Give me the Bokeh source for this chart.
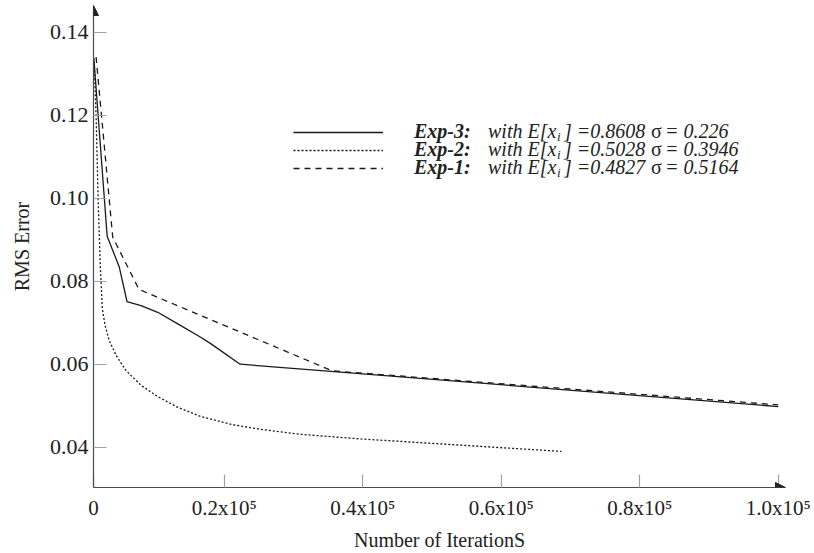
from bokeh.plotting import figure
from bokeh.models import Range1d, FixedTicker, Label, Legend, LegendItem, Arrow, NormalHead
from bokeh.embed import file_html
from bokeh.resources import INLINE

# ---------------- data ----------------
exp3_x = [1200, 3100, 4850, 5960, 7980, 10400, 13300, 16600, 18100, 22300, 100000]
exp3_y = [0.1332, 0.0908, 0.0834, 0.0751, 0.0741, 0.0725, 0.0697, 0.0665, 0.0649, 0.0600, 0.0498]

exp2_x = [1200, 1500, 1800, 2100, 2400, 2800, 3400, 4400, 5800, 8000, 10400, 13300,
          16600, 21000, 25300, 31100, 39700, 48400, 57000, 68700]
exp2_y = [0.1337, 0.1199, 0.0994, 0.0838, 0.0734, 0.0693, 0.0657, 0.0621, 0.0585, 0.0549,
          0.0522, 0.0496, 0.0474, 0.0455, 0.0443, 0.0431, 0.0420, 0.0411, 0.0402, 0.0390]

exp1_x = [1500, 3900, 7700, 35600, 100000]
exp1_y = [0.1340, 0.0906, 0.0780, 0.0584, 0.0502]

series_names = ["Exp-3:", "Exp-2:", "Exp-1:"]
series_means = ["0.8608", "0.5028", "0.4827"]
series_sigmas = ["0.226", "0.3946", "0.5164"]

x_ticks = [20000, 40000, 60000, 80000, 100000]
x_tick_labels = ["0.2x10\u2075", "0.4x10\u2075", "0.6x10\u2075", "0.8x10\u2075", "1.0x10\u2075"]
y_ticks = [0.04, 0.06, 0.08, 0.10, 0.12, 0.14]
y_tick_labels = ["0.04", "0.06", "0.08", "0.10", "0.12", "0.14"]

X_START, X_END = 1126, 101053
Y_START, Y_END = 0.0303, 0.1464

FONT = "Liberation Serif"
TXT = "#222222"
LINE = "#1a1a1a"

p = figure(frame_width=692, frame_height=482, output_backend="svg", toolbar_location=None,
           x_range=Range1d(X_START, X_END), y_range=Range1d(Y_START, Y_END),
           min_border_left=93, min_border_right=29, min_border_top=5, min_border_bottom=62)
p.outline_line_color = None
p.xgrid.visible = False
p.ygrid.visible = False
p.background_fill_color = "white"
p.border_fill_color = "white"

for ax in (p.xaxis[0], p.yaxis[0]):
    ax.axis_line_color = "#4a4a4a"
    ax.axis_line_width = 1.2
    ax.major_tick_in = 13
    ax.major_tick_out = 0
    ax.major_tick_line_color = "#a0a0a0"
    ax.major_tick_line_width = 1.2
    ax.minor_tick_line_color = None
    ax.major_label_text_font = FONT
    ax.major_label_text_font_size = "21px"
    ax.major_label_text_color = TXT
    ax.axis_label_text_font = FONT
    ax.axis_label_text_font_size = "20px"
    ax.axis_label_text_font_style = "normal"
    ax.axis_label_text_color = TXT

xa = p.xaxis[0]
xa.ticker = FixedTicker(ticks=[X_START] + x_ticks)
ov = {X_START: "0"}
ov.update({t: l for t, l in zip(x_ticks, x_tick_labels)})
xa.major_label_overrides = ov
xa.major_label_standoff = 8
xa.axis_label = "Number of IterationS"
xa.axis_label_standoff = 6

ya = p.yaxis[0]
ya.ticker = FixedTicker(ticks=y_ticks)
ya.major_label_overrides = {t: l for t, l in zip(y_ticks, y_tick_labels)}
ya.major_label_text_font_size = "22px"
ya.major_label_standoff = 5
ya.axis_label = "RMS Error"
ya.axis_label_standoff = 14

r3 = p.line(exp3_x, exp3_y, line_color=LINE, line_width=1.3)
r2 = p.line(exp2_x, exp2_y, line_color=LINE, line_width=1.3, line_dash="2 2")
r1 = p.line(exp1_x, exp1_y, line_color=LINE, line_width=1.3, line_dash="6 5")

# axis arrows
p.add_layout(Arrow(end=NormalHead(size=10, fill_color="#222222", line_color="#222222"),
                   x_start=X_START, y_start=Y_END - 0.004, x_end=X_START, y_end=Y_END,
                   line_alpha=0))
p.add_layout(Arrow(end=NormalHead(size=10, fill_color="#222222", line_color="#222222"),
                   x_start=X_END - 1500, y_start=Y_START, x_end=X_END, y_end=Y_START,
                   line_alpha=0))

# legend: line samples only (texts are drawn as labels below)
legend = Legend(items=[LegendItem(label=" ", renderers=[r]) for r in [r3, r2, r1]],
                location=(199.5, 310), orientation="vertical",
                border_line_color=None, background_fill_alpha=0,
                padding=0, margin=0, spacing=0,
                glyph_width=90, glyph_height=18, label_height=18, label_standoff=0,
                label_text_font=FONT, label_text_font_size="10px",
                label_text_baseline="middle")
p.add_layout(legend)

FRAME_L, FRAME_B = 92.5, 487
row_y = [130, 148, 166]
for i in range(3):
    sy = FRAME_B - row_y[i]
    pieces = [
        (series_names[i], 413, 0, "20px", "bold italic"),
        ("with E[x", 487, 0, "20px", "italic"),
        ("i", 556, -6, "13px", "italic"),
        ("] =" + series_means[i], 563, 0, "20px", "italic"),
        ("\u03c3", 650, 0, "20px", "normal"),
        ("= " + series_sigmas[i], 664, 0, "20px", "italic"),
    ]
    for txt, px, dy, fs, st in pieces:
        p.add_layout(Label(x=px - FRAME_L, y=sy + dy, x_units="screen", y_units="screen",
                           text=txt, text_font=FONT, text_font_size=fs, text_font_style=st,
                           text_color=TXT, text_baseline="middle", text_align="left"))

open("out.html", "w").write(file_html(p, INLINE))
